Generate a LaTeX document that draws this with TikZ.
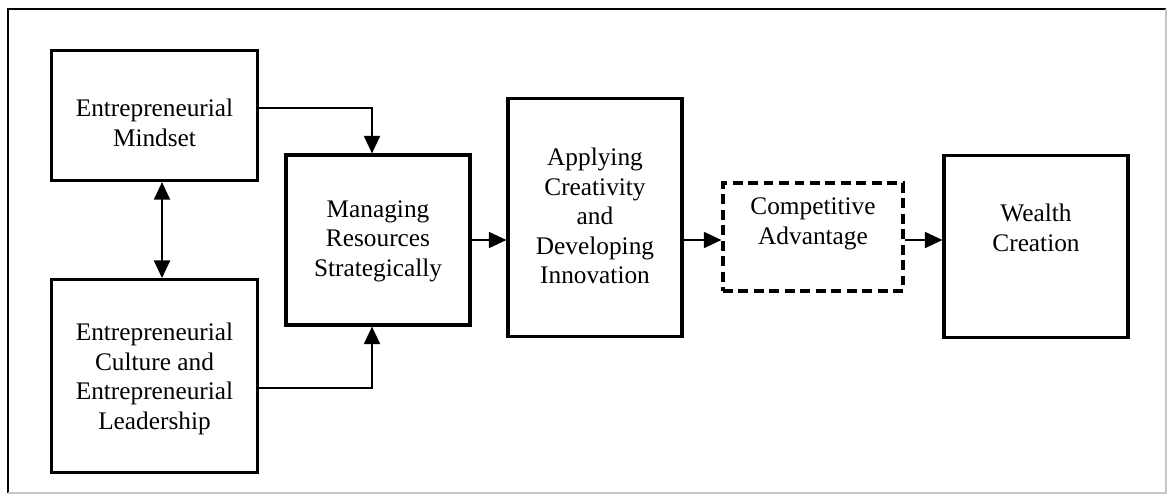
\documentclass[tikz,border=0pt]{standalone}
\usepackage{fontspec}
\setmainfont{Liberation Serif}
\usepackage{tikz}
\usetikzlibrary{arrows.meta}

\tikzset{
  box/.style={draw,line width=2.2pt},
  dashbox/.style={draw,line width=2.2pt,dash pattern=on 7pt off 4pt},
  txt/.style={align=center,inner sep=0pt,font=\fontsize{18}{21}\selectfont},
  arr/.style={line width=1.5pt,-{Triangle[length=4.4mm,width=4mm]}},
  twoarr/.style={line width=1.5pt,{Triangle[length=4.4mm,width=4mm]}-{Triangle[length=4.4mm,width=4mm]}}
}

\begin{document}
\begin{tikzpicture}[x=0.025cm,y=-0.025cm]
\useasboundingbox (0,0) rectangle (1168,495);
% frame
\draw[line width=1.5pt] (1166,9) -- (8,9) -- (8,493);
\draw[gray!45,line width=0.8pt] (8,493) -- (1166,493) -- (1166,9);

% boxes
\node[box,minimum width=5.15cm,minimum height=3.25cm] (mindset) at (154.5,115.5) {};
\node[box,minimum width=5.15cm,minimum height=4.82cm] (culture) at (154.5,376) {};
\node[box,minimum width=4.6cm,minimum height=4.25cm] (resources) at (378,240) {};
\node[box,minimum width=4.35cm,minimum height=5.95cm] (creativity) at (595,217.5) {};
\node[dashbox,minimum width=4.5cm,minimum height=2.7cm] (advantage) at (813,237) {};
\node[box,minimum width=4.6cm,minimum height=4.55cm] (wealth) at (1036,246.5) {};

% texts
\node[txt] (mindset-t) at (154.5,123) {Entrepreneurial\\Mindset};
\node[txt] (culture-t) at (154.5,379) {Entrepreneurial\\Culture and\\Entrepreneurial\\Leadership};
\node[txt] (resources-t) at (378,241) {Managing\\Resources\\Strategically};
\node[txt] (creativity-t) at (595,216) {Applying\\Creativity\\and\\Developing\\Innovation};
\node[txt] (advantage-t) at (813,224) {Competitive\\Advantage};
\node[txt] (wealth-t) at (1036,228) {Wealth\\Creation};

% connectors
\draw[twoarr] (mindset.south -| 162,0) -- (culture.north -| 162,0);
\draw[arr] (mindset.east |- 0,108) -| (resources.north -| 372,0);
\draw[arr] (culture.east |- 0,388) -| (resources.south -| 372,0);
\draw[arr] (resources.east) -- (creativity.west |- resources.east);
\draw[arr] (creativity.east |- resources.east) -- (advantage.west |- resources.east);
\draw[arr] (advantage.east |- resources.east) -- (wealth.west |- resources.east);
\end{tikzpicture}
\end{document}
